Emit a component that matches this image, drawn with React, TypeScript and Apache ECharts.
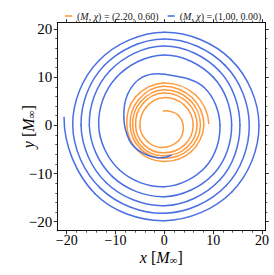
import React, { useEffect, useRef } from "react";
import * as echarts from "echarts";

// Orange trajectory, (M, chi) = (2.20, 0.60), outer end -> inner end
const orangeX = [9.1, 6.36, -0.2, -5.9, -7.7, -5.34, -0.2, 5.48, 8.1, 5.73, -0.2, -5.3, -7.0, -4.88, -0.2, 5.02, 7.4, 5.23, -0.2, -4.88, -6.5, -4.53, -0.2, 4.6, 6.7, 4.74, -0.2, -4.45, -5.9, -4.1, -0.2, 4.1, 5.9, 4.14, -0.2, -3.75, -5.0, -3.4, -0.4, 2.9, 3.9, 2.85, 1.16, -0.2];
const orangeY = [0.4, 6.36, 8.8, 5.9, 0, -5.34, -7.5, -5.48, 0, 5.73, 8.1, 5.3, 0, -4.88, -6.85, -5.02, 0, 5.23, 7.4, 4.88, 0, -4.53, -6.3, -4.6, 0, 4.74, 6.7, 4.45, 0, -4.1, -5.7, -4.1, 0, 4.14, 5.75, 3.75, -0.3, -3.4, -4.6, -3.2, -0.35, 2.1, 2.9, 2.97];

// Blue trajectory, (M, chi) = (1.00, 0.00): outer start -> inner end
const blueX = [-20.55, -14.21, 0, 13.82, 19.39, 13.65, 0, -13.43, -18.77, -13.08, 0, 12.59, 17.4, 12.45, 0, -12.37, -17.07, -11.91, 0, 11.35, 15.49, 11.28, 0, -11.24, -15.37, -10.64, 0, 10.08, 13.79, 10.01, 0, -9.9, -13.45, -9.23, 0, 8.52, 11.4, 8.1, 0, -4.5, -7.5, -8.3, -7.2, -5.0, -1.5, 1.4];
const blueY = [1.7, -14.21, -19.79, -13.82, 0, 13.65, 19.32, 13.43, 0, -13.08, -18.26, -12.59, 0, 12.45, 17.92, 12.37, 0, -11.91, -16.68, -11.35, 0, 11.28, 16.47, 11.24, 0, -10.64, -14.81, -10.08, 0, 10.01, 14.6, 9.9, 0, -9.23, -12.73, -8.52, 0, 7.9, 10.6, 10.0, 6.5, 1.5, -3.0, -5.4, -6.7, -6.2];

const seriesNames = ["(M, χ) = (2.20, 0.60)", "(M, χ) = (1.00, 0.00)"];
const seriesColors = ["#ff9a3c", "#4a6fe3"];
const majorTicks = [-20, -10, 0, 10, 20];
const minorTicks = [-18, -16, -14, -12, -8, -6, -4, -2, 2, 4, 6, 8, 12, 14, 16, 18];

const X_MIN = -21.93;
const X_MAX = 20.68;
const Y_MIN = -21.87;
const Y_MAX = 21.31;

const FONT = "Liberation Serif";

// Draws the trajectory as smooth cubic segments between the read points,
// positioned through the chart's own axes (api.coord).
function makeRenderer(xs: number[], ys: number[], color: string) {
  return (params: any, api: any) => {
    const n = xs.length;
    const i = params.dataIndex;
    if (i >= n - 1) return null;
    const P = (k: number) => api.coord([xs[k], ys[k]]) as number[];
    const unit = (v: number[]) => {
      const l = Math.hypot(v[0], v[1]) || 1;
      return [v[0] / l, v[1] / l];
    };
    const tanInt = (k: number) => {
      const a = P(k - 1);
      const b = P(k + 1);
      return unit([b[0] - a[0], b[1] - a[1]]);
    };
    const reflectEnd = (a: number[], b: number[], t: number[]) => {
      const c = unit([b[0] - a[0], b[1] - a[1]]);
      const d = c[0] * t[0] + c[1] * t[1];
      return [2 * c[0] * d - t[0], 2 * c[1] * d - t[1]];
    };
    const tan = (k: number) => {
      if (n < 3) {
        const a = P(0);
        const b = P(1);
        return unit([b[0] - a[0], b[1] - a[1]]);
      }
      if (k === 0) return reflectEnd(P(0), P(1), tanInt(1));
      if (k === n - 1) return reflectEnd(P(n - 2), P(n - 1), tanInt(n - 2));
      return tanInt(k);
    };
    const p0 = P(i);
    const p1 = P(i + 1);
    const d = Math.hypot(p1[0] - p0[0], p1[1] - p0[1]);
    const t0 = tan(i);
    const t1 = tan(i + 1);
    return {
      type: "bezierCurve",
      shape: {
        x1: p0[0],
        y1: p0[1],
        x2: p1[0],
        y2: p1[1],
        cpx1: p0[0] + (t0[0] * d) / 3,
        cpy1: p0[1] + (t0[1] * d) / 3,
        cpx2: p1[0] - (t1[0] * d) / 3,
        cpy2: p1[1] - (t1[1] * d) / 3,
      },
      style: { stroke: color, lineWidth: 1.5, fill: "none", lineCap: "round" },
    };
  };
}

export default function App() {
  const ref = useRef<HTMLDivElement>(null);
  useEffect(() => {
    document.body.style.margin = "0";
    if (!ref.current) return;
    const chart = echarts.init(ref.current, null, { renderer: "svg" });

    const mkAxis = (dim: "x" | "y", position: string, minor: boolean, label: boolean, extra: any = {}) => ({
      type: "value",
      gridIndex: 0,
      position,
      min: dim === "x" ? X_MIN : Y_MIN,
      max: dim === "x" ? X_MAX : Y_MAX,
      axisLine: { show: true, onZero: false, lineStyle: { color: "#111", width: 1 } },
      axisTick: {
        show: true,
        inside: false,
        length: minor ? 2 : 3.5,
        customValues: minor ? minorTicks : majorTicks,
        lineStyle: { color: "#111", width: minor ? 0.7 : 0.9 },
      },
      axisLabel: label
        ? {
            show: true,
            customValues: majorTicks,
            margin: dim === "x" ? 3 : 5,
            color: "#000",
            fontFamily: FONT,
            fontSize: dim === "x" ? 14 : 15,
            formatter: (v: number) => (v < 0 ? "\u2212" + Math.abs(v) : String(v)),
          }
        : { show: false },
      splitLine: { show: false },
      ...extra,
    });

    const rich = {
      i: { fontStyle: "italic", fontFamily: FONT, fontSize: 16, color: "#000" },
      s: { fontFamily: FONT, fontSize: 11, color: "#000", verticalAlign: "bottom", lineHeight: 14 },
    };

    const mkSeries = (k: number, xs: number[], ys: number[]) => ({
      name: seriesNames[k],
      type: "custom",
      coordinateSystem: "cartesian2d",
      xAxisIndex: 0,
      yAxisIndex: 0,
      data: xs.map((x, i) => [x, ys[i]]),
      encode: { x: 0, y: 1 },
      renderItem: makeRenderer(xs, ys, seriesColors[k]),
      itemStyle: { color: seriesColors[k] },
      silent: true,
    });

    const option: any = {
      animation: false,
      grid: { left: 57.3, top: 22.7, width: 208, height: 208, containLabel: false },
      legend: {
        top: 6,
        left: 60,
        itemWidth: 7,
        itemHeight: 1.6,
        itemGap: 9,
        icon: "rect",
        data: seriesNames,
        formatter: (name: string) => name.replace("M", "{i|M}").replace("χ", "{i|χ}"),
        textStyle: {
          fontFamily: FONT,
          fontSize: 10,
          color: "#222",
          rich: { i: { fontStyle: "italic", fontFamily: FONT, fontSize: 10, color: "#222" } },
        },
      },
      xAxis: [
        mkAxis("x", "bottom", false, true, {
          name: "{i|x} [{i|M}{s|∞}]",
          nameLocation: "middle",
          nameGap: 19,
          nameMoveOverlap: false,
          nameTextStyle: { fontFamily: FONT, fontSize: 16, color: "#000", verticalAlign: "top", rich },
        }),
        mkAxis("x", "bottom", true, false),
        mkAxis("x", "top", false, false),
        mkAxis("x", "top", true, false),
      ],
      yAxis: [
        mkAxis("y", "left", false, true, {
          name: "{i|y} [{i|M}{s|∞}]",
          nameLocation: "middle",
          nameRotate: 90,
          nameGap: 21,
          nameMoveOverlap: false,
          nameTextStyle: { fontFamily: FONT, fontSize: 16, color: "#000", rich },
        }),
        mkAxis("y", "left", true, false),
        mkAxis("y", "right", false, false),
        mkAxis("y", "right", true, false),
      ],
      series: [mkSeries(0, orangeX, orangeY), mkSeries(1, blueX, blueY)],
    };
    chart.setOption(option);
    return () => chart.dispose();
  }, []);
  return <div ref={ref} style={{ width: 274, height: 275 }} />;
}
